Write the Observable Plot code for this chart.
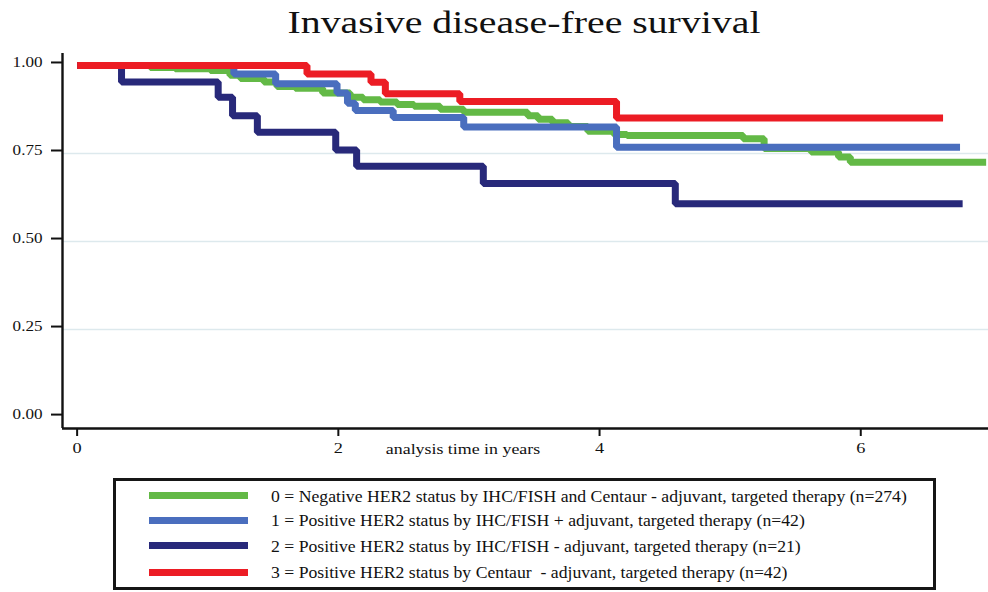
<!DOCTYPE html>
<html><head><meta charset="utf-8">
<script src="https://cdn.jsdelivr.net/npm/d3@7"></script>
<script src="https://cdn.jsdelivr.net/npm/@observablehq/plot@0.6"></script>
<style>
body{margin:0;background:#fff;width:988px;height:592px;position:relative;overflow:hidden;font-family:"Liberation Serif","Times New Roman",serif;color:#111}
.abs{position:absolute;white-space:nowrap}
#titleText{left:524px;top:6px;font-size:32.4px;line-height:32px;transform-origin:50% 50%}
#xlabel{left:463px;top:442px;font-size:14.5px;line-height:15px;transform-origin:50% 50%}
#legendBox{left:113px;top:478px;width:823px;height:112px;border:3px solid #161616;box-sizing:border-box}
.swatch{position:absolute;left:149px;width:99px;height:7px}
.ltext{position:absolute;left:271px;font-size:17.5px;line-height:20px;white-space:nowrap;transform-origin:0 50%}
</style></head><body>
<div id="titleText" class="abs">Invasive disease-free survival</div>
<div id="chart" class="abs" style="left:0;top:44px"></div>
<div id="xlabel" class="abs">analysis time in years</div>
<div id="legendBox" class="abs"></div>
<script>
// ---- data ----
const groupNames = ["0", "1", "2", "3"];
const legendLabels = [
  "0 = Negative HER2 status by IHC/FISH and Centaur - adjuvant, targeted therapy (n=274)",
  "1 = Positive HER2 status by IHC/FISH + adjuvant, targeted therapy (n=42)",
  "2 = Positive HER2 status by IHC/FISH - adjuvant, targeted therapy (n=21)",
  "3 = Positive HER2 status by Centaur  - adjuvant, targeted therapy (n=42)"
];
const colors = ["#63b946", "#4a6ebe", "#28297a", "#ec1c24"];

const g0Time = [0, 0.56, 0.75, 1.02, 1.17, 1.25, 1.43, 1.53, 1.67, 1.88, 2.09, 2.19, 2.32, 2.45, 2.58, 2.78, 2.96, 3.45, 3.53, 3.64, 3.76, 3.91, 4.11, 4.21, 5.10, 5.26, 5.62, 5.83, 5.92, 6.96];
const g0Surv = [1.0, 0.994, 0.991, 0.986, 0.972, 0.963, 0.953, 0.940, 0.935, 0.922, 0.910, 0.903, 0.896, 0.889, 0.884, 0.876, 0.867, 0.857, 0.847, 0.837, 0.827, 0.813, 0.804, 0.801, 0.792, 0.764, 0.754, 0.740, 0.725, 0.725];

const g1Time = [0, 1.20, 1.52, 1.99, 2.07, 2.13, 2.42, 2.96, 4.13, 6.76];
const g1Surv = [1.0, 0.976, 0.948, 0.922, 0.893, 0.872, 0.852, 0.825, 0.768, 0.768];

const g2Time = [0, 0.34, 1.08, 1.19, 1.38, 1.98, 2.14, 3.11, 4.58, 6.78];
const g2Surv = [1.0, 0.953, 0.91, 0.857, 0.81, 0.76, 0.714, 0.665, 0.607, 0.607];

const g3Time = [0, 1.76, 2.25, 2.36, 2.93, 4.13, 6.63];
const g3Surv = [1.0, 0.976, 0.952, 0.920, 0.898, 0.851, 0.851];

const xTicks = [0, 2, 4, 6];
const yTicks = [0, 0.25, 0.5, 0.75, 1];
const yGrid = [0.25, 0.5, 0.75];

// ---- build ----
const xDomain = [-0.112, 6.978];
const yDomain = [-0.031, 1.034];
const times = [g0Time, g1Time, g2Time, g3Time];
const survs = [g0Surv, g1Surv, g2Surv, g3Surv];
const series = times.map((T, g) => T.map((t, i) => ({group: groupNames[g], time: t, surv: survs[g][i]})));

const lineMarks = series.map((d, g) => Plot.line(d, {
  x: "time", y: "surv", curve: "step-after", stroke: colors[g],
  strokeWidth: 7, strokeLinejoin: "miter", strokeLinecap: "butt"
}));

const plot = Plot.plot({
  width: 988, height: 424,
  marginLeft: 62, marginRight: 0, marginTop: 9, marginBottom: 40,
  style: {fontFamily: "'Liberation Serif', 'Times New Roman', serif", color: "#111", background: "transparent", overflow: "visible"},
  x: {domain: xDomain},
  y: {domain: yDomain},
  marks: [
    Plot.ruleY(yGrid, {stroke: "#dde9ed", strokeWidth: 1.5}),
    ...lineMarks,
    Plot.axisY({ticks: yTicks, tickSize: 11, tickPadding: 9, fontSize: 14, strokeWidth: 2, tickFormat: d => d.toFixed(2), dy: -3, label: null}),
    Plot.axisX({ticks: xTicks, tickSize: 8, tickPadding: 6, fontSize: 15, strokeWidth: 2, label: null}),
    Plot.ruleX([xDomain[0]], {strokeWidth: 2.4, stroke: "#111"}),
    Plot.ruleY([yDomain[0]], {strokeWidth: 2.4, stroke: "#111"})
  ]
});
document.getElementById("chart").appendChild(plot);

// horizontally stretch chart texts (the reference is horizontally stretched)
plot.querySelectorAll("text").forEach(t => {
  let tr = t.getAttribute("transform");
  if (!tr) {
    const x = parseFloat(t.getAttribute("x")) || 0, y = parseFloat(t.getAttribute("y")) || 0;
    t.removeAttribute("x"); t.removeAttribute("y");
    tr = `translate(${x},${y})`;
  }
  t.setAttribute("transform", tr + " scale(1.22,1)");
});

// title & axis label fit
function fitCenter(el, target) {
  const w = el.offsetWidth;
  el.style.transform = `translateX(-50%) scaleX(${target / w})`;
}
fitCenter(document.getElementById("titleText"), 473);
fitCenter(document.getElementById("xlabel"), 154);

// legend
const rowCenters = [495.7, 520, 545.8, 572];
const texts = [];
legendLabels.forEach((lab, i) => {
  const sw = document.createElement("div");
  sw.className = "swatch";
  sw.style.top = (rowCenters[i] - 3.5) + "px";
  sw.style.background = colors[i];
  document.body.appendChild(sw);
  const tx = document.createElement("div");
  tx.className = "ltext";
  tx.style.top = (rowCenters[i] - 10) + "px";
  tx.textContent = lab;
  tx.style.whiteSpace = "pre";
  document.body.appendChild(tx);
  texts.push(tx);
});
const s = 636 / texts[0].offsetWidth;
texts.forEach(t => t.style.transform = `scaleX(${s})`);
</script>
</body></html>
